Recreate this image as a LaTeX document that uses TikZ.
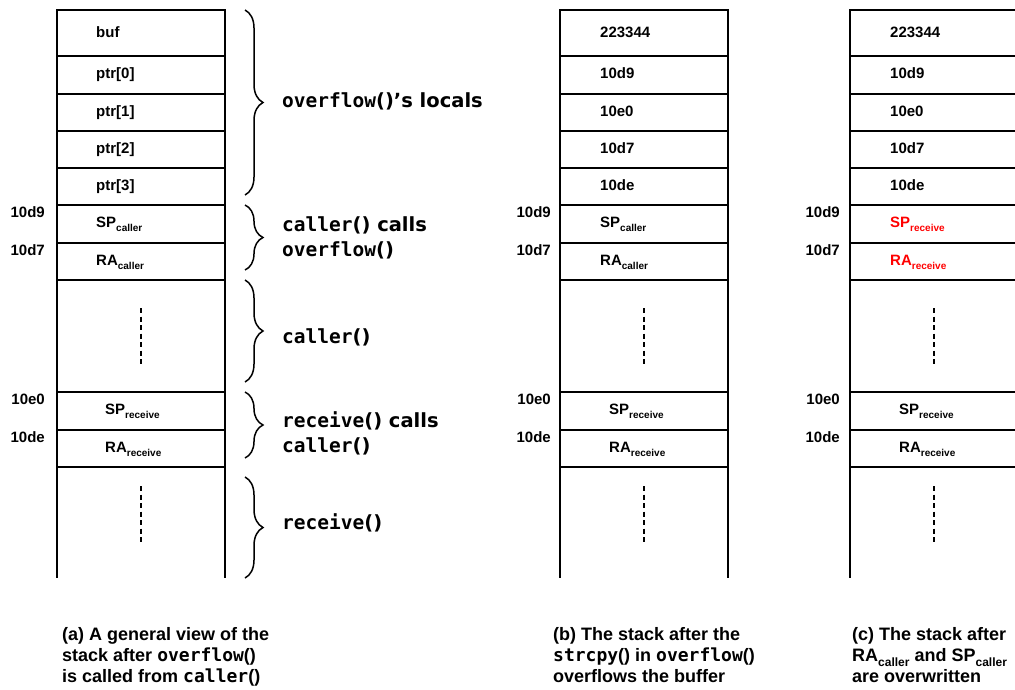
\documentclass[tikz,border=0pt]{standalone}
\usepackage{fontspec}
\setmainfont{Liberation Sans}
\setmonofont{DejaVu Sans Mono}
\newfontfamily\bracefont{DejaVu Sans}
\usetikzlibrary{decorations.pathreplacing}
\newcommand{\fn}[1]{\texttt{#1}}
\newcommand{\lo}[2][10]{\raisebox{-0.28em}{\fontsize{#1}{#1}\selectfont #2}}

\begin{document}
\begin{tikzpicture}[x=1pt,y=-1pt,
   cell/.style={draw, line width=2pt, minimum width=168pt, inner sep=0pt, outer sep=0pt},
   frame/.style={line width=2pt},
   gapline/.style={line width=2pt, dash pattern=on 5pt off 3.5pt},
   val/.style={anchor=west, inner sep=0pt, text height=10.5pt, text depth=3pt,
               font=\fontsize{15}{18}\selectfont\bfseries},
   addr/.style={anchor=east, inner sep=0pt, font=\fontsize{15}{18}\selectfont\bfseries},
   brc/.style={decorate, decoration={brace, amplitude=18pt}, line width=1.5pt},
   what/.style={anchor=west, align=left, inner sep=0pt,
                font=\fontsize{19.5}{25}\selectfont\bfseries\bracefont},
   capt/.style={anchor=north west, align=left, inner sep=0pt,
                font=\fontsize{18}{21}\selectfont\bfseries}]
   \useasboundingbox (0,0) rectangle (1015,690);
   \clip (0,0) rectangle (1015,690);

   % the three stacks
   \foreach \s/\x in {a/57,b/560,c/850}{
      \foreach \i/\t/\b in {1/10/56,2/56/94,3/94/131,4/131/168,5/168/205,
                            6/205/243,7/243/280,8/280/392,9/392/430,10/430/467}
         \node[cell, minimum height={(\b-\t)*1pt}] (\s\i) at ({\x+84},{(\t+\b)/2}) {};
      \draw[frame] (\s10.south west) -- ++(0,111);
      \draw[frame] (\s10.south east) -- ++(0,111) coordinate (\s11);
      \draw[gapline] (\s8.center) ++(0,-28) -- ++(0,57);
      \draw[gapline] (\s10.south) ++(0,19) -- ++(0,57);
   }

   % (a)
   \node[val] (a1v)  at ([xshift=39,yshift=-1]a1.west)  {buf};
   \node[val] (a2v)  at ([xshift=39]a2.west)  {ptr[0]};
   \node[val] (a3v)  at ([xshift=39]a3.west)  {ptr[1]};
   \node[val] (a4v)  at ([xshift=39]a4.west)  {ptr[2]};
   \node[val] (a5v)  at ([xshift=39]a5.west)  {ptr[3]};
   \node[val] (a6v)  at ([xshift=39]a6.west)  {SP\lo{caller}};
   \node[val] (a7v)  at ([xshift=39]a7.west)  {RA\lo{caller}};
   \node[val] (a9v)  at ([xshift=48]a9.west)  {SP\lo{receive}};
   \node[val] (a10v) at ([xshift=48]a10.west) {RA\lo{receive}};
   \node[addr] (a6n)  at ([xshift=-12,yshift=-7]a6.north west)  {10d9};
   \node[addr] (a7n)  at ([xshift=-12,yshift=-7]a7.north west)  {10d7};
   \node[addr] (a9n)  at ([xshift=-12,yshift=-7]a9.north west)  {10e0};
   \node[addr] (a10n) at ([xshift=-12,yshift=-7]a10.north west) {10de};

   % (b)
   \node[val] (b1v)  at ([xshift=40,yshift=-1]b1.west)  {223344};
   \node[val] (b2v)  at ([xshift=40]b2.west)  {10d9};
   \node[val] (b3v)  at ([xshift=40]b3.west)  {10e0};
   \node[val] (b4v)  at ([xshift=40]b4.west)  {10d7};
   \node[val] (b5v)  at ([xshift=40]b5.west)  {10de};
   \node[val] (b6v)  at ([xshift=40]b6.west)  {SP\lo{caller}};
   \node[val] (b7v)  at ([xshift=40]b7.west)  {RA\lo{caller}};
   \node[val] (b9v)  at ([xshift=49]b9.west)  {SP\lo{receive}};
   \node[val] (b10v) at ([xshift=49]b10.west) {RA\lo{receive}};
   \node[addr] (b6n)  at ([xshift=-9,yshift=-7]b6.north west)  {10d9};
   \node[addr] (b7n)  at ([xshift=-9,yshift=-7]b7.north west)  {10d7};
   \node[addr] (b9n)  at ([xshift=-9,yshift=-7]b9.north west)  {10e0};
   \node[addr] (b10n) at ([xshift=-9,yshift=-7]b10.north west) {10de};

   % (c)
   \node[val] (c1v)  at ([xshift=40,yshift=-1]c1.west)  {223344};
   \node[val] (c2v)  at ([xshift=40]c2.west)  {10d9};
   \node[val] (c3v)  at ([xshift=40]c3.west)  {10e0};
   \node[val] (c4v)  at ([xshift=40]c4.west)  {10d7};
   \node[val] (c5v)  at ([xshift=40]c5.west)  {10de};
   \node[val, red] (c6v) at ([xshift=40]c6.west) {SP\lo{receive}};
   \node[val, red] (c7v) at ([xshift=40]c7.west) {RA\lo{receive}};
   \node[val] (c9v)  at ([xshift=49]c9.west)  {SP\lo{receive}};
   \node[val] (c10v) at ([xshift=49]c10.west) {RA\lo{receive}};
   \node[addr] (c6n)  at ([xshift=-10,yshift=-7]c6.north west)  {10d9};
   \node[addr] (c7n)  at ([xshift=-10,yshift=-7]c7.north west)  {10d7};
   \node[addr] (c9n)  at ([xshift=-10,yshift=-7]c9.north west)  {10e0};
   \node[addr] (c10n) at ([xshift=-10,yshift=-7]c10.north west) {10de};

   % frames of (a)
   \draw[brc] ([xshift=20]a1.north east) -- ([xshift=20,yshift=10]a5.south east);
   \draw[brc] ([xshift=20]a6.north east) -- ([xshift=20,yshift=10]a7.south east);
   \draw[brc] ([xshift=20]a8.north east) -- ([xshift=20,yshift=10]a8.south east);
   \draw[brc] ([xshift=20]a9.north east) -- ([xshift=20,yshift=9]a10.south east);
   \draw[brc] ([xshift=20,yshift=-10]a10.south east) -- ([xshift=20]a11);
   \node[what] (w1) at (282,101) {\fn{overflow}()’s locals};
   \node[what] (w2) at (282,238) {\fn{caller}() calls\\\fn{overflow}()};
   \node[what] (w3) at (282,337) {\fn{caller}()};
   \node[what] (w4) at (282,433) {\fn{receive}() calls\\\fn{caller}()};
   \node[what] (w5) at (282,523) {\fn{receive}()};

   \node[capt] (ca) at (62,627)  {(a) A general view of the\\stack after \fn{overflow}()\\is called from \fn{caller}()};
   \node[capt] (cb) at (553,627) {(b) The stack after the\\\fn{strcpy}() in \fn{overflow}()\\overflows the buffer};
   \node[capt] (cc) at (852,627) {(c) The stack after\\RA\lo[12]{caller} and SP\lo[12]{caller}\\are overwritten};
\end{tikzpicture}
\end{document}
